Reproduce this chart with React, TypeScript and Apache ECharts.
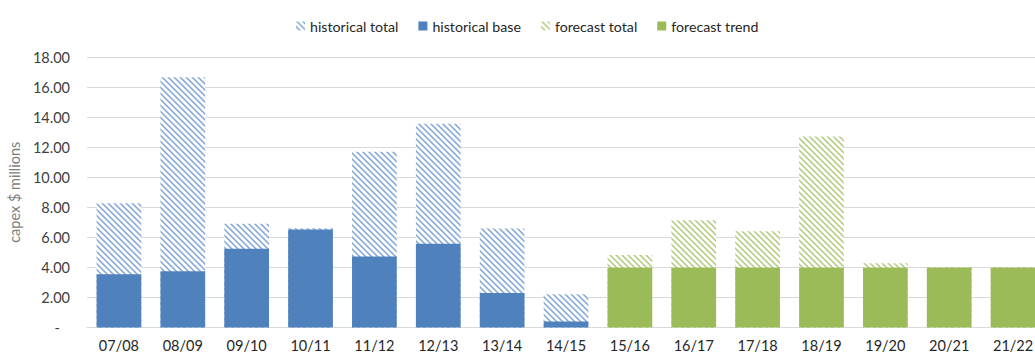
import React, { useEffect, useRef } from "react";
import * as echarts from "echarts";

const categories = ["07/08", "08/09", "09/10", "10/11", "11/12", "12/13", "13/14", "14/15", "15/16", "16/17", "17/18", "18/19", "19/20", "20/21", "21/22"];
const historicalTotal = [8.26, 16.66, 6.9, 6.6, 11.7, 13.56, 6.58, 2.21, null, null, null, null, null, null, null];
const historicalBase = [3.55, 3.75, 5.24, 6.52, 4.73, 5.58, 2.3, 0.4, null, null, null, null, null, null, null];
const forecastTotal = [null, null, null, null, null, null, null, null, 4.82, 7.14, 6.41, 12.71, 4.27, 4.0, 4.0];
const forecastTrend = [null, null, null, null, null, null, null, null, 4.0, 4.0, 4.0, 4.0, 4.0, 4.0, 4.0];
const yTicks = [0, 2, 4, 6, 8, 10, 12, 14, 16, 18];

const FONT = "Lato";
const FS = 14.5;

function makeHatch(dark: string, light: string) {
  const size = 6;
  const c = document.createElement("canvas");
  c.width = size;
  c.height = size;
  const ctx = c.getContext("2d")!;
  ctx.fillStyle = "#ffffff";
  ctx.fillRect(0, 0, size, size);
  for (let y = 0; y < size; y++) {
    for (let x = 0; x < size; x++) {
      const d = (x - y + size * 2) % size;
      if (d === 1) {
        ctx.fillStyle = dark;
        ctx.fillRect(x, y, 1, 1);
      } else if (d === 0 || d === 2) {
        ctx.fillStyle = light;
        ctx.fillRect(x, y, 1, 1);
      }
    }
  }
  return { image: c, repeat: "repeat", imageWidth: size, imageHeight: size } as any;
}

export default function App() {
  const ref = useRef<HTMLDivElement>(null);
  useEffect(() => {
    if (!ref.current) return;
    const chart = echarts.init(ref.current, null, { renderer: "svg" });
    const blueHatch = makeHatch("#7FA3D6", "#B8CEEB");
    const greenHatch = makeHatch("#ADC874", "#D6E4BC");
    chart.setOption({
      animation: false,
      textStyle: { fontFamily: FONT },
      legend: {
        top: 14,
        left: 291,
        itemWidth: 9,
        itemHeight: 9,
        itemGap: 20,
        icon: "rect",
        textStyle: { fontFamily: FONT, fontSize: 14.2, color: "#262626" },
        data: ["historical total", "historical base", "forecast total", "forecast trend"],
      },
      grid: { left: 87, right: -10, top: 57, bottom: 26.5, containLabel: false, outerBoundsMode: "none" },
      xAxis: {
        type: "category",
        data: categories,
        axisTick: { show: false },
        axisLine: { lineStyle: { color: "#D9D9D9", width: 1 } },
        axisLabel: { color: "#262626", fontSize: FS, fontFamily: FONT, margin: 10 },
      },
      yAxis: {
        type: "value",
        min: yTicks[0],
        max: yTicks[yTicks.length - 1],
        interval: 2,
        name: "capex $ millions",
        nameLocation: "middle",
        nameRotate: 90,
        nameGap: 62,
        nameTextStyle: { color: "#7F7F7F", fontSize: FS, fontFamily: FONT },
        axisLine: { show: false },
        axisTick: { show: false },
        splitLine: { lineStyle: { color: "#D9D9D9", width: 1 } },
        axisLabel: {
          color: "#404040",
          fontSize: FS,
          fontFamily: FONT,
          margin: 17,
          formatter: (v: number) => (v === 0 ? "{d|-}" : v.toFixed(2)),
          rich: { d: { padding: [0, 10, 0, 0], fontSize: FS, fontFamily: FONT, color: "#404040" } },
        },
      },
      series: [
        {
          name: "historical total",
          type: "bar",
          data: historicalTotal,
          barGap: "-100%",
          barCategoryGap: "30%",
          itemStyle: { color: blueHatch },
        },
        {
          name: "historical base",
          type: "bar",
          data: historicalBase,
          barGap: "-100%",
          barCategoryGap: "30%",
          itemStyle: { color: "#4F81BD" },
        },
        {
          name: "forecast total",
          type: "bar",
          data: forecastTotal,
          barGap: "-100%",
          barCategoryGap: "30%",
          itemStyle: { color: greenHatch },
        },
        {
          name: "forecast trend",
          type: "bar",
          data: forecastTrend,
          barGap: "-100%",
          barCategoryGap: "30%",
          itemStyle: { color: "#9BBB59" },
        },
      ],
    });
    return () => chart.dispose();
  }, []);
  return (
    <div
      ref={ref}
      style={{ position: "absolute", left: 0, top: 0, width: 1035, height: 354, background: "#ffffff" }}
    />
  );
}
